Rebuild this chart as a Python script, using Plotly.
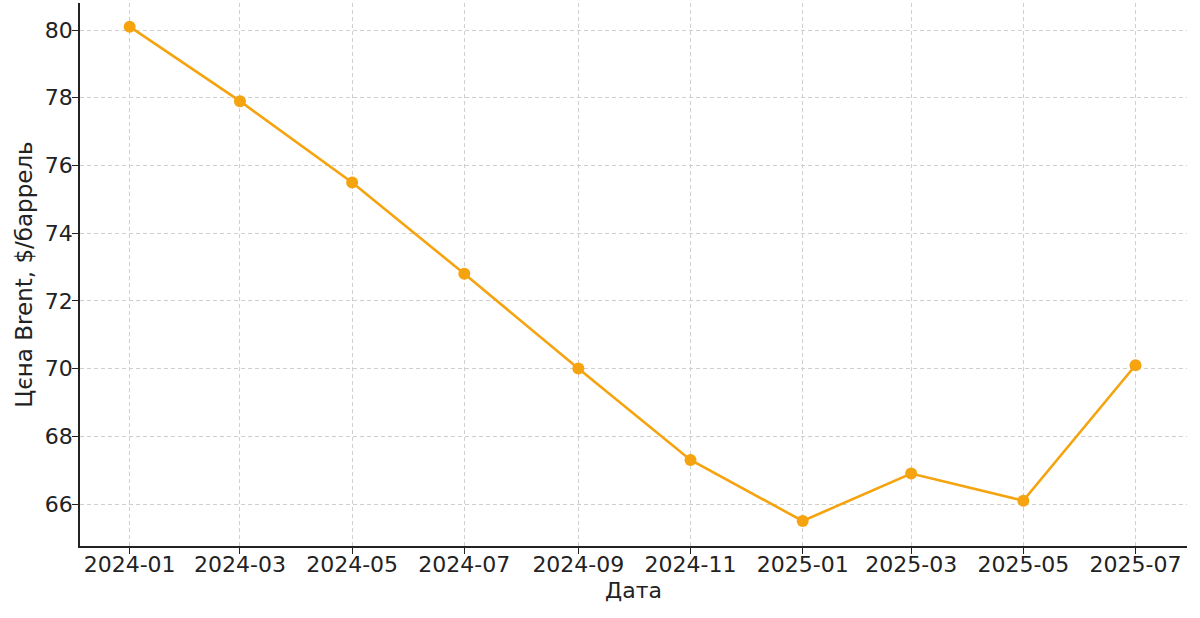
import plotly.graph_objects as go

# Brent price, bi-monthly
dates = ["2024-01-01", "2024-03-01", "2024-05-01", "2024-07-01", "2024-09-01",
         "2024-11-01", "2025-01-01", "2025-03-01", "2025-05-01", "2025-07-01"]
prices = [80.1, 77.9, 75.5, 72.8, 70.0, 67.3, 65.5, 66.9, 66.1, 70.1]
tick_dates = dates
tick_labels = [d[:7] for d in dates]
y_ticks = [66, 68, 70, 72, 74, 76, 78, 80]

fig = go.Figure()
fig.add_trace(go.Scatter(
    x=dates,
    y=prices,
    mode="lines+markers",
    line=dict(color="#f5a30f", width=2.6),
    marker=dict(color="#f5a30f", size=12),
    showlegend=False,
))

axis_font = dict(family="DejaVu Sans", size=22, color="#222222")
title_font = dict(family="DejaVu Sans", size=23, color="#222222")

fig.update_layout(
    width=1200,
    height=618,
    margin=dict(l=80, r=13, t=3, b=72),
    paper_bgcolor="white",
    plot_bgcolor="white",
    font=dict(family="DejaVu Sans", size=22, color="#222222"),
    xaxis=dict(
        title=dict(text="Дата", font=axis_font, standoff=6),
        range=["2023-12-05", "2025-07-29"],
        tickvals=tick_dates,
        ticktext=tick_labels,
        tickfont=axis_font,
        ticklabelstandoff=-8,
        automargin=False,
        showline=True, linecolor="#222222", linewidth=1.5,
        ticks="outside", ticklen=6, tickcolor="#222222",
        showgrid=True, gridcolor="#cfcfcf", griddash="4px,3px", gridwidth=1,
        zeroline=False,
    ),
    yaxis=dict(
        title=dict(text="Цєна Brent, $/баррель", font=title_font, standoff=6),
        range=[64.76, 80.8],
        tickvals=y_ticks,
        tickfont=axis_font,
        ticklabelstandoff=-5,
        automargin=False,
        showline=True, linecolor="#222222", linewidth=1.5,
        ticks="outside", ticklen=6, tickcolor="#222222",
        showgrid=True, gridcolor="#cfcfcf", griddash="4px,3px", gridwidth=1,
        zeroline=False,
    ),
)

fig.write_html("out.html", config={"displayModeBar": False},
               post_script="document.body.style.margin='0';")
